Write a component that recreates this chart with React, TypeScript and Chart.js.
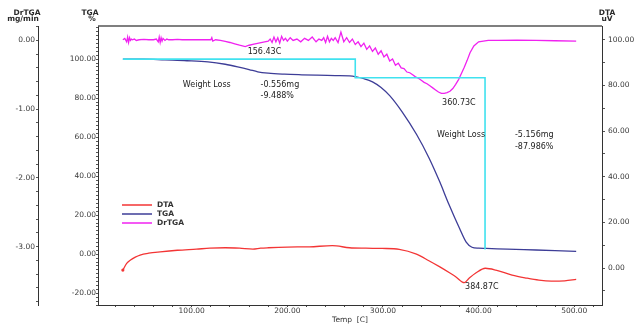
import React, { useEffect, useRef } from 'react';
import { Chart, registerables } from 'chart.js';

Chart.register(...registerables);

// ---- Data (temperature in °C) ----
const tgaTemp = [28, 50, 72, 95, 117, 135, 148, 160, 169, 180, 197, 215, 231, 250, 265, 272, 280, 289, 298, 307, 320, 335, 348, 359, 369, 380, 387, 393, 400, 408, 430, 460, 480, 502];
const tgaValues = [100, 100, 99.6, 99.2, 98.6, 97.4, 96.1, 94.7, 93.5, 92.8, 92.3, 92.0, 91.8, 91.6, 91.4, 90.9, 90.0, 88.4, 85.5, 81.3, 73, 61.5, 49.5, 37.5, 25.5, 13.3, 6.2, 3.6, 3.1, 3.0, 2.6, 2.2, 1.9, 1.5];

const dtaTemp = [28, 32, 36, 41, 46, 55, 67, 85, 105, 119, 135, 150, 164, 172, 180, 200, 223, 247, 265, 282, 299, 317, 335, 348, 359, 370, 376, 385, 390, 397, 407, 418, 435, 450, 463, 476, 490, 502];
const dtaValues = [-0.9, 2, 3.5, 4.8, 5.7, 6.5, 7.1, 7.8, 8.3, 8.7, 8.9, 8.7, 8.3, 8.7, 8.9, 9.2, 9.3, 9.8, 8.9, 8.7, 8.6, 8.2, 6.1, 3.2, 0.6, -2.2, -3.8, -6.4, -4.5, -2.2, -0.1, -0.9, -3.1, -4.4, -5.3, -5.7, -5.6, -5.0];

const drtgaTemp = [
  28, 30, 32, 33, 34, 35, 36, 37, 38, 40,
  42, 45, 50, 55, 60, 63, 65, 66, 67, 68,
  69, 70, 72, 74, 76, 80, 85, 90, 95, 100,
  105, 110, 115, 120, 121, 122, 125, 130, 135, 140,
  145, 150, 153, 156, 160, 165, 170, 175, 180, 182,
  184, 186, 188, 190, 192, 194, 196, 198, 200, 203,
  206, 210, 214, 218, 222, 226, 230, 233, 236, 238,
  240, 242, 244, 246, 248, 250, 253, 256, 259, 262,
  265, 268, 271, 274, 277, 280, 283, 286, 289, 292,
  295, 298, 301, 304, 307, 310, 313, 316, 319, 322,
  325, 328, 331, 334, 337, 340, 343, 346, 349, 352,
  355, 358, 361, 364, 367, 370, 373, 376, 379, 382,
  385, 388, 391, 395, 400, 410, 420, 440, 460, 480,
  502,
];
const drtgaValues = [
  0.01, 0.03, -0.02, 0.05, -0.03, 0.04, 0.0, 0.02, 0.01, 0.02,
  0.0, 0.01, 0.015, 0.01, 0.01, 0.02, -0.02, 0.05, -0.03, 0.04,
  -0.01, 0.03, 0.0, 0.02, 0.01, 0.01, 0.015, 0.01, 0.01, 0.01,
  0.01, 0.01, 0.01, 0.01, 0.04, -0.01, 0.01, 0.0, -0.015, -0.03,
  -0.05, -0.07, -0.08, -0.09, -0.07, -0.055, -0.04, -0.025, -0.01, 0.02,
  -0.03, 0.05, -0.02, 0.04, -0.04, 0.06, 0.0, 0.03, -0.01, 0.04,
  0.0, 0.02, -0.02, 0.03, 0.0, 0.05, -0.02, 0.02, 0.0, 0.04,
  -0.03, 0.06, -0.02, 0.03, 0.0, 0.04, -0.03, 0.12, -0.02, 0.04,
  -0.03, 0.02, -0.06, -0.02, -0.09, -0.04, -0.13, -0.08, -0.16, -0.11,
  -0.2, -0.15, -0.24, -0.2, -0.3, -0.27, -0.36, -0.33, -0.4, -0.41,
  -0.46, -0.47, -0.5, -0.53, -0.55, -0.58, -0.61, -0.63, -0.66, -0.69,
  -0.72, -0.75, -0.77, -0.77, -0.76, -0.74, -0.7, -0.64, -0.57, -0.48,
  -0.39, -0.29, -0.18, -0.08, -0.02, 0.0, 0.0, 0.005, 0.0, -0.005,
  -0.01,
];

// Weight-loss step line (on TGA axis)
const stepTemp = [28, 271, 271, 406.7, 406.7];
const stepValues = [100, 100, 90.5, 90.5, 2.5];

// Annotations (anchored in temperature / TGA % units)
const noteTexts = ['156.43C', 'Weight Loss', '-0.556mg', '-9.488%', '360.73C', 'Weight Loss', '-5.156mg', '-87.986%', '384.87C'];
const noteTemp = [158.5, 90.7, 172, 172, 361.8, 356.6, 438, 438, 385.8];
const noteTga = [103.6, 86.7, 86.7, 81, 77.4, 61, 61, 54.9, -16.9];

const legendLabels = ['DTA', 'TGA', 'DrTGA'];

const COLORS = {
  dta: '#f33535',
  tga: '#3d3d97',
  drtga: '#f022f0',
  step: '#40e2ef',
};
const legendColors = [COLORS.dta, COLORS.tga, COLORS.drtga];

const pts = (xs: number[], ys: number[]) => xs.map((x, i) => ({ x, y: ys[i] }));

const TICK_FONT = { family: 'DejaVu Sans', size: 7.5 };
const TICK_COLOR = '#3a3a3a';

const isMultiple = (v: number, m: number) => Math.abs(v / m - Math.round(v / m)) < 1e-6;

const overlay = {
  id: 'overlay',
  afterDraw(chart: any) {
    const ctx = chart.ctx as CanvasRenderingContext2D;
    const { left, right, top, bottom } = chart.chartArea;
    const sx = chart.scales.x;
    const sy = chart.scales.yTGA;
    const sd = chart.scales.yDr;
    const sr = chart.scales.yDTA;
    ctx.save();
    // top border of the plot
    ctx.strokeStyle = '#555';
    ctx.lineWidth = 1.5;
    ctx.beginPath();
    ctx.moveTo(left, top);
    ctx.lineTo(right, top);
    ctx.stroke();

    // axis titles
    ctx.fillStyle = '#2a2a2a';
    ctx.textAlign = 'center';
    ctx.textBaseline = 'middle';
    ctx.font = 'bold 7.5px "DejaVu Sans"';
    ctx.fillText('DrTGA', sd.right - 11, 13);
    ctx.fillText('mg/min', sd.right - 15, 19.5);
    ctx.fillText('TGA', sy.right - 8, 13);
    ctx.fillText('%', sy.right - 6, 19.5);
    ctx.fillText('DTA', sr.left + 5, 13);
    ctx.fillText('uV', sr.left + 5, 19.5);

    // legend
    ctx.textAlign = 'left';
    ctx.font = 'bold 7.5px "DejaVu Sans"';
    const lx = left + 24;
    const ly = bottom - 100;
    legendLabels.forEach((lab, i) => {
      const y = ly + i * 9;
      ctx.strokeStyle = legendColors[i];
      ctx.lineWidth = 1.5;
      ctx.beginPath();
      ctx.moveTo(lx, y);
      ctx.lineTo(lx + 30, y);
      ctx.stroke();
      ctx.fillStyle = '#333';
      ctx.fillText(lab, lx + 35, y);
    });

    // annotations
    ctx.font = '8px "DejaVu Sans"';
    ctx.fillStyle = '#222';
    noteTexts.forEach((t, i) => {
      ctx.fillText(t, sx.getPixelForValue(noteTemp[i]), sy.getPixelForValue(noteTga[i]));
    });
    ctx.restore();
  },
};

export default function App() {
  const ref = useRef<HTMLCanvasElement | null>(null);
  useEffect(() => {
    if (!ref.current) return;
    const chart = new Chart(ref.current, {
      type: 'line',
      data: {
        datasets: [
          {
            label: 'Step',
            data: pts(stepTemp, stepValues),
            yAxisID: 'yTGA',
            borderColor: COLORS.step,
            borderWidth: 1.6,
            pointRadius: 0,
            tension: 0,
          },
          {
            label: 'DTA',
            data: pts(dtaTemp, dtaValues),
            yAxisID: 'yDTA',
            borderColor: COLORS.dta,
            borderWidth: 1.3,
            pointRadius: dtaTemp.map((_, i) => (i === 0 ? 1.6 : 0)),
            pointBackgroundColor: COLORS.dta,
            pointBorderWidth: 0,
            cubicInterpolationMode: 'monotone',
          },
          {
            label: 'TGA',
            data: pts(tgaTemp, tgaValues),
            yAxisID: 'yTGA',
            borderColor: COLORS.tga,
            borderWidth: 1.3,
            pointRadius: 0,
            cubicInterpolationMode: 'monotone',
          },
          {
            label: 'DrTGA',
            data: pts(drtgaTemp, drtgaValues),
            yAxisID: 'yDr',
            borderColor: COLORS.drtga,
            borderWidth: 1.3,
            pointRadius: 0,
            tension: 0,
          },
        ],
      },
      options: {
        animation: false,
        responsive: false,
        devicePixelRatio: 1,
        layout: { padding: { top: 26, left: 0, right: 0, bottom: 0 } },
        plugins: { legend: { display: false }, tooltip: { enabled: false } },
        scales: {
          x: {
            type: 'linear',
            min: 2,
            max: 529,
            grid: { drawOnChartArea: false, drawTicks: true, tickLength: 2, color: '#444' },
            border: { display: true, color: '#333', width: 1 },
            ticks: {
              stepSize: 20,
              includeBounds: false,
              autoSkip: false,
              maxRotation: 0,
              padding: 0,
              font: TICK_FONT,
              color: TICK_COLOR,
              callback: (v: any) => (isMultiple(Number(v), 100) ? Number(v).toFixed(2) : ''),
            },
            title: {
              display: true,
              text: 'Temp  [C]',
              font: { family: 'DejaVu Sans', size: 7.5 },
              color: '#333',
              padding: 0,
            },
            afterFit: (s: any) => {
              s.height = 20;
            },
          },
          yDr: {
            type: 'linear',
            position: 'left',
            weight: 2,
            min: -3.85,
            max: 0.21,
            grid: { drawOnChartArea: false, tickLength: 2, color: '#555' },
            border: { display: true, color: '#333', width: 1 },
            ticks: {
              stepSize: 0.2,
              includeBounds: false,
              autoSkip: false,
              padding: 1,
              font: TICK_FONT,
              color: TICK_COLOR,
              callback: (v: any) => (isMultiple(Number(v), 1) ? Number(v).toFixed(2) : ''),
            },
            afterFit: (s: any) => {
              s.width = 38;
            },
          },
          yTGA: {
            type: 'linear',
            position: 'left',
            weight: 1,
            min: -26,
            max: 117,
            grid: { drawOnChartArea: false, tickLength: 2, color: '#555' },
            border: { display: true, color: '#333', width: 1 },
            ticks: {
              stepSize: 2,
              includeBounds: false,
              autoSkip: false,
              padding: 0,
              font: TICK_FONT,
              color: TICK_COLOR,
              callback: (v: any) => (isMultiple(Number(v), 20) ? Number(v).toFixed(2) : ''),
            },
            afterFit: (s: any) => {
              s.width = 60;
            },
          },
          yDTA: {
            type: 'linear',
            position: 'right',
            min: -16.2,
            max: 106.1,
            grid: { drawOnChartArea: false, tickLength: 3, color: '#555' },
            border: { display: true, color: '#333', width: 1 },
            ticks: {
              stepSize: 10,
              includeBounds: false,
              autoSkip: false,
              padding: 3,
              font: TICK_FONT,
              color: TICK_COLOR,
              callback: (v: any) => (isMultiple(Number(v), 20) ? Number(v).toFixed(2) : ''),
            },
            afterFit: (s: any) => {
              s.width = 36;
            },
          },
        },
      } as any,
      plugins: [overlay],
    });
    return () => chart.destroy();
  }, []);

  return (
    <div style={{ position: 'fixed', left: 0, top: 0, width: 638, height: 325, background: '#fff' }}>
      <canvas ref={ref} width={638} height={325} style={{ display: 'block' }} />
    </div>
  );
}
